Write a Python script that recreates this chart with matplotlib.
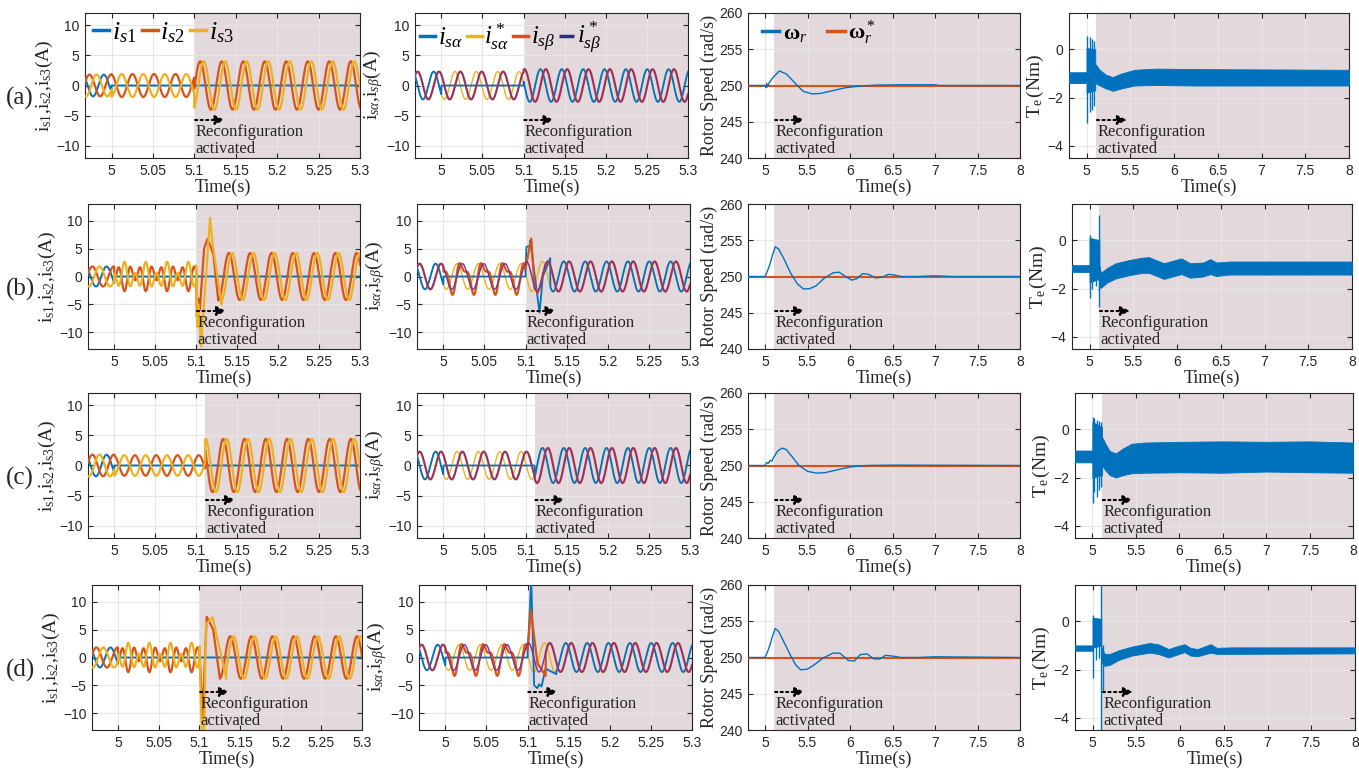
import numpy as np
import matplotlib
matplotlib.use('Agg')
import matplotlib.pyplot as plt
from matplotlib.lines import Line2D

plt.rcParams['font.family'] = ['Liberation Sans', 'DejaVu Sans']
plt.rcParams['mathtext.fontset'] = 'custom'
plt.rcParams['mathtext.rm'] = 'Liberation Serif'
plt.rcParams['mathtext.it'] = 'Liberation Serif:italic'
plt.rcParams['mathtext.bf'] = 'Liberation Serif:bold'

BLUE, ORANGE, YELLOW, PURPLE = '#0072BD', '#D95319', '#EDB120', '#7E2F8E'
SHADE = '#e3d9dc'
TXT = '#262626'
SERIF = ['Liberation Serif', 'DejaVu Serif']

# ---------------- values ----------------
row_tags = ['(a)', '(b)', '(c)', '(d)']
f_elec = 38.5              # Hz, from the period of the currents
t_peak = 4.9907            # positive peak of is1 / isa before the fault
t_fault = 5.0
t_reconf = [5.1, 5.1, 5.111, 5.1]        # start of the shaded zone, current plots
t_reconf_slow = [5.11, 5.11, 5.11, 5.11]  # start of the shaded zone, speed/torque plots
cur_ylim = [12, 13, 12, 13]

# phase currents is1, is2, is3
amp_pre = [1.8, 1.8, 1.8, 1.8]
amp_flt = [1.9, 2.2, 1.7, 2.2]
flt_h1 = [1.0, 0.45, 1.0, 0.45]     # fundamental share while faulted
flt_h2 = [0.0, 0.75, 0.0, 0.75]     # 2nd harmonic share while faulted
amp_post = [4.0, 4.2, 4.4, 3.8]
post_trough = [5.120, 5.127, 5.146, 5.125]   # first trough of is2 after reconfiguration
post_shift = [60, 55, 60, 55]                # deg lag of is3 behind is2
# transient points after reconfiguration (rows b and d)
is2_tk = {1: ([5.1, 5.1008, 5.103, 5.1045, 5.1097, 5.1137, 5.116, 5.121, 5.127],
              [1.0, -7.2, -4.0, -6.0, 5.0, 6.7, 6.0, 4.0, -4.3]),
          3: ([5.1, 5.104, 5.109, 5.112, 5.117, 5.125],
              [1.5, -10.5, 7.3, 6.5, 5.0, -3.5])}
is3_tk = {1: ([5.1, 5.1015, 5.103, 5.106, 5.117, 5.12, 5.131],
              [2.0, -9.0, -5.0, -12.5, 10.5, 6.0, -5.0]),
          3: ([5.1, 5.103, 5.106, 5.108, 5.1164, 5.133],
              [2.0, -13.0, -13.0, 6.0, 7.2, -3.8])}

# alpha-beta currents
ab_pre = [2.3, 2.3, 2.3, 2.3]
ab_post = [2.7, 2.7, 2.9, 2.6]
ab_dist = [0.0, 1.1, 0.0, 1.1]    # distortion of isb while faulted
isa_tk = {1: ([5.1, 5.101, 5.105, 5.106, 5.107, 5.117, 5.121, 5.130],
              [0.0, 5.3, 5.5, 6.5, 5.0, -6.5, 0.0, 3.3]),
          3: ([5.1, 5.1045, 5.108, 5.112, 5.114, 5.117, 5.122, 5.135],
              [0.0, 14.0, -5.0, -5.5, -4.8, -5.2, -2.0, -3.0])}
isb_tk = {1: ([5.1, 5.107, 5.111, 5.115],
              [1.5, 6.8, -2.0, -3.0]),
          3: ([5.1, 5.104, 5.112, 5.122],
              [1.5, 8.5, -1.0, -3.3])}

# rotor speed (rad/s)
spd_t = [[4.8, 5.0, 5.01, 5.02, 5.03, 5.05, 5.1, 5.17, 5.25, 5.3, 5.38, 5.45, 5.55, 5.65, 5.8, 5.95, 6.1, 6.3, 6.6, 7.0, 7.05, 8.0],
         [4.8, 5.0, 5.03, 5.06, 5.09, 5.12, 5.16, 5.22, 5.3, 5.38, 5.45, 5.52, 5.6, 5.7, 5.8, 5.87, 5.95, 6.02, 6.08, 6.15, 6.22, 6.3, 6.38, 6.45, 6.52, 6.6, 6.8, 7.0, 7.2, 8.0],
         [4.8, 5.0, 5.02, 5.04, 5.06, 5.08, 5.1, 5.15, 5.2, 5.25, 5.32, 5.4, 5.5, 5.6, 5.7, 5.85, 6.0, 6.2, 6.5, 8.0],
         [4.8, 5.0, 5.03, 5.06, 5.09, 5.12, 5.16, 5.22, 5.3, 5.36, 5.42, 5.5, 5.58, 5.68, 5.8, 5.88, 5.98, 6.05, 6.12, 6.2, 6.28, 6.35, 6.42, 6.5, 6.6, 6.8, 7.0, 8.0]]
spd_w = [[250, 250, 249.7, 250.3, 249.8, 250.4, 251.2, 252.0, 251.6, 251.0, 250.0, 249.2, 248.85, 248.9, 249.3, 249.7, 249.9, 250.05, 250.1, 250.1, 250.0, 250.0],
         [250, 250, 250.8, 251.8, 253.0, 254.1, 253.8, 252.5, 250.5, 249.0, 248.3, 248.3, 248.7, 249.8, 250.5, 250.6, 250.0, 249.5, 249.7, 250.4, 250.3, 249.8, 249.9, 250.3, 250.2, 250.0, 250.0, 250.1, 250.0, 250.0],
         [250, 250, 250.4, 250.3, 250.7, 250.6, 251.1, 252.0, 252.4, 252.2, 251.2, 250.0, 249.2, 248.95, 249.0, 249.4, 249.8, 250.0, 250.05, 250.0],
         [250, 250, 250.8, 251.8, 253.0, 254.0, 253.6, 252.2, 250.3, 249.0, 248.3, 248.4, 249.0, 249.9, 250.6, 250.6, 249.6, 249.5, 250.4, 250.5, 249.8, 249.8, 250.3, 250.2, 250.0, 250.0, 250.1, 250.0]]
spd_ref = 250.0

# electromagnetic torque band (Nm)
tq_t = [[4.8, 5.0, 5.0, 5.1, 5.1, 5.15, 5.22, 5.3, 5.4, 5.55, 5.8, 6.2, 8.0],
        [4.8, 5.0, 5.0, 5.11, 5.11, 5.13, 5.2, 5.3, 5.45, 5.6, 5.68, 5.85, 5.95, 6.05, 6.15, 6.3, 6.38, 6.45, 6.6, 8.0],
        [4.8, 5.0, 5.0, 5.11, 5.11, 5.15, 5.2, 5.27, 5.35, 5.45, 5.6, 6.0, 6.5, 7.0, 7.5, 8.0],
        [4.8, 5.0, 5.0, 5.1, 5.1, 5.14, 5.2, 5.3, 5.45, 5.65, 5.75, 5.87, 5.95, 6.05, 6.12, 6.2, 6.35, 6.42, 6.6, 8.0]]
tq_hi = [[-0.95, -0.95, 0.05, 0.0, -0.6, -0.85, -1.05, -1.15, -1.0, -0.85, -0.8, -0.82, -0.85],
         [-1.03, -1.03, 0.1, 0.0, -1.0, -1.35, -1.15, -0.95, -0.82, -0.72, -0.7, -0.95, -0.85, -0.75, -0.95, -0.92, -0.78, -0.92, -0.88, -0.88],
         [-0.88, -0.88, 0.3, 0.1, -0.3, -0.6, -0.9, -1.0, -0.8, -0.6, -0.55, -0.52, -0.5, -0.52, -0.5, -0.55],
         [-1.0, -1.0, 0.15, 0.1, -1.1, -1.35, -1.35, -1.2, -1.05, -0.9, -0.95, -1.15, -1.05, -0.95, -1.1, -1.15, -0.95, -1.1, -1.08, -1.08]]
tq_lo = [[-1.4, -1.4, -1.8, -1.7, -1.4, -1.5, -1.62, -1.72, -1.62, -1.5, -1.48, -1.5, -1.5],
         [-1.31, -1.31, -1.75, -1.6, -1.9, -1.97, -1.75, -1.58, -1.45, -1.35, -1.35, -1.6, -1.5, -1.4, -1.55, -1.5, -1.4, -1.48, -1.42, -1.42],
         [-1.37, -1.37, -2.0, -1.9, -1.5, -1.7, -1.9, -2.0, -1.9, -1.82, -1.8, -1.78, -1.8, -1.75, -1.78, -1.8],
         [-1.22, -1.22, -1.1, -1.0, -1.7, -1.85, -1.8, -1.6, -1.42, -1.3, -1.35, -1.5, -1.4, -1.28, -1.42, -1.45, -1.3, -1.35, -1.35, -1.33]]
spk_t = [[5.006, 5.035, 5.063, 5.09],
         [5.01, 5.03, 5.07, 5.105, 5.112],
         [5.005, 5.02, 5.05, 5.08, 5.1],
         [5.008, 5.04, 5.07, 5.097, 5.115]]
spk_hi = [[0.55, 0.5, 0.42, 0.36],
          [0.23, 0.1, 0.05, 0.05, 1.03],
          [0.52, 0.45, 0.4, 0.35, 0.3],
          [0.25, 0.1, 0.1, 1.6, -1.0]]
spk_lo = [[-3.05, -2.6, -2.5, -2.35],
          [-2.4, -2.0, -1.9, -2.1, -2.77],
          [-3.05, -2.6, -2.8, -2.5, -2.4],
          [-2.35, -1.6, -1.5, -4.6, -2.9]]

cur_xticks = [5, 5.05, 5.1, 5.15, 5.2, 5.25, 5.3]
cur_xlabels = ['5', '5.05', '5.1', '5.15', '5.2', '5.25', '5.3']
slow_xticks = [5, 5.5, 6, 6.5, 7, 7.5, 8]
slow_xlabels = ['5', '5.5', '6', '6.5', '7', '7.5', '8']

# ---------------- layout (pixels) ----------------
W, H = 1359, 773
lefts = [[85, 415, 748, 1069], [88, 417, 748, 1072], [88, 417, 748, 1075], [92, 419, 748, 1075]]
widths = [[275, 273, 272, 280], [272, 273, 272, 280], [272, 273, 272, 278], [270, 273, 272, 280]]
tops = [13, 204, 393, 585]
AX_H = 145

dt = 1e-4
w = 2 * np.pi * f_elec


def span(a, b):
    return np.arange(a, b, dt)


def splice(t, y, key):
    # replace the part of a trace covered by the key points
    tk, yk = key
    keep_a = t < tk[0]
    keep_b = t > tk[-1]
    return (np.concatenate([t[keep_a], tk, t[keep_b]]),
            np.concatenate([y[keep_a], yk, y[keep_b]]))


def style(ax, xlim, ylim, xt, xl, yt, shade_from):
    ax.set_xlim(*xlim)
    ax.set_ylim(*ylim)
    ax.axvspan(shade_from, xlim[1], color=SHADE, lw=0, zorder=1)
    ax.set_xticks(xt)
    ax.set_xticklabels(xl)
    ax.set_yticks(yt)
    ax.grid(True, color='#e6e6e6', lw=0.8)
    ax.tick_params(direction='in', top=True, right=True, length=3.5,
                   labelsize=10, colors=TXT, pad=4)
    for s in ax.spines.values():
        s.set_color(TXT)
        s.set_linewidth(0.8)
    ax.set_xlabel('Time(s)', family=SERIF, fontsize=13, color=TXT, labelpad=1)


def annotate(ax, x0):
    # dotted arrow and label starting at the reconfiguration instant
    fx = ax.transAxes.inverted().transform(ax.transData.transform((x0, 0)))[0]
    ax.annotate('', xy=(fx + 0.11, 0.262), xytext=(fx + 0.003, 0.262),
                xycoords='axes fraction', textcoords='axes fraction',
                arrowprops=dict(arrowstyle='-|>', ls=':', lw=1.5, color='k',
                                mutation_scale=14, shrinkA=0, shrinkB=0), zorder=5)
    ax.text(fx + 0.004, 0.235, 'Reconfiguration\nactivated', transform=ax.transAxes,
            family=SERIF, fontsize=12, color=TXT, va='top', ha='left',
            linespacing=1.08, zorder=5)


fig = plt.figure(figsize=(W / 100, H / 100), dpi=100)

for r in range(4):
    axes = []
    for c in range(4):
        l, wd = lefts[r][c], widths[r][c]
        axes.append(fig.add_axes([l / W, 1 - (tops[r] + AX_H) / H, wd / W, AX_H / H]))
    ax1, ax2, ax3, ax4 = axes
    tr = t_reconf[r]
    yl = cur_ylim[r]

    # ---- phase currents ----
    t_pre = span(4.968, t_fault)
    th = w * (t_pre - t_peak)
    A0 = amp_pre[r]
    i1p, i2p, i3p = A0 * np.cos(th), A0 * np.cos(th - 2 * np.pi / 3), A0 * np.cos(th + 2 * np.pi / 3)
    t_f = span(t_fault, tr)
    thf = w * (t_f - t_peak)
    i2f = amp_flt[r] * (flt_h1[r] * np.sin(thf - np.pi / 6) + flt_h2[r] * np.sin(2 * thf + 0.4))
    i3f = -i2f
    t_p = span(tr, 5.3005)
    thp = w * (t_p - post_trough[r]) - np.pi / 2
    i2q = amp_post[r] * np.sin(thp)
    i3q = amp_post[r] * np.sin(thp - np.radians(post_shift[r]))
    tt = np.concatenate([t_pre, t_f, t_p])
    i1 = np.concatenate([i1p, np.zeros(len(t_f) + len(t_p))])
    i2 = np.concatenate([i2p, i2f, i2q])
    i3 = np.concatenate([i3p, i3f, i3q])
    t2, i2 = (splice(tt, i2, is2_tk[r]) if r in is2_tk else (tt, i2))
    t3, i3 = (splice(tt, i3, is3_tk[r]) if r in is3_tk else (tt, i3))
    style(ax1, (4.968, 5.3), (-yl, yl), cur_xticks, cur_xlabels, [-10, -5, 0, 5, 10], tr)
    ax1.plot(tt, i1, color=BLUE, lw=1.4, zorder=3)
    ax1.plot(t2, i2, color=ORANGE, lw=1.6, zorder=3)
    ax1.plot(t3, i3, color=YELLOW, lw=1.6, zorder=3)
    ax1.set_ylabel(r'$\mathrm{i_{s1}{,}i_{s2}{,}i_{s3}(A)}$', fontsize=14, color=TXT, labelpad=1)
    annotate(ax1, tr)
    fig.text(6 / W, 1 - (tops[r] + 85) / H, row_tags[r], family=SERIF, fontsize=18,
             color=TXT, va='center', ha='left')

    # ---- alpha-beta currents ----
    ta = span(4.968, 5.3005)
    tha = w * (ta - t_peak)
    amp = np.where(ta < tr, ab_pre[r], ab_post[r])
    ia_ref = amp * np.cos(tha)
    ib_ref = amp * np.sin(tha)
    flt = (ta >= t_fault) & (ta < tr)
    ia = np.where(flt, 0.0, ia_ref)
    ib = ib_ref + np.where(flt, ab_dist[r] * np.sin(2 * tha + 0.8), 0.0)
    tia, ia = (splice(ta, ia, isa_tk[r]) if r in isa_tk else (ta, ia))
    tib, ib = (splice(ta, ib, isb_tk[r]) if r in isb_tk else (ta, ib))
    style(ax2, (4.968, 5.3), (-yl, yl), cur_xticks, cur_xlabels, [-10, -5, 0, 5, 10], tr)
    ax2.plot(ta, ia_ref, color=YELLOW, lw=1.0, zorder=3)
    ax2.plot(tia, ia, color=BLUE, lw=1.3, zorder=3)
    ax2.plot(tib, ib, color=ORANGE, lw=1.6, zorder=3)
    ax2.plot(ta, ib_ref, color=PURPLE, lw=1.0, zorder=3)
    ax2.set_ylabel(r'$\mathrm{i}_{s\alpha}\mathrm{{,}i}_{s\beta}\mathrm{(A)}$', fontsize=14,
                   color=TXT, labelpad=1)
    annotate(ax2, tr)

    # ---- rotor speed ----
    ts = t_reconf_slow[r]
    style(ax3, (4.8, 8), (240, 260), slow_xticks, slow_xlabels, [240, 245, 250, 255, 260], ts)
    ax3.plot(spd_t[r], spd_w[r], color=BLUE, lw=1.0, zorder=3)
    ax3.axhline(spd_ref, color=ORANGE, lw=1.5, zorder=2.9)
    ax3.set_ylabel('Rotor Speed (rad/s)', family=SERIF, fontsize=13, color=TXT, labelpad=1)
    annotate(ax3, ts)

    # ---- torque ----
    style(ax4, (4.8, 8), (-4.5, 1.5), slow_xticks, slow_xlabels, [-4, -2, 0], ts)
    ax4.fill_between(tq_t[r], tq_lo[r], tq_hi[r], color=BLUE, lw=0.6, zorder=3)
    ax4.vlines(spk_t[r], spk_lo[r], spk_hi[r], color=BLUE, lw=1.0, zorder=3)
    ax4.set_ylabel(r'$\mathrm{T_e\,(Nm)}$', fontsize=14, color=TXT, labelpad=1)
    annotate(ax4, ts)

    if r == 0:
        h1 = [Line2D([], [], color=c, lw=2.5) for c in (BLUE, ORANGE, YELLOW)]
        ax1.legend(h1, [r'$i_{s1}$', r'$i_{s2}$', r'$i_{s3}$'], loc='upper left',
                   bbox_to_anchor=(0.03, 0.95), ncol=3, frameon=False, fontsize=19,
                   handlelength=0.6, handletextpad=0.1, columnspacing=0.2, borderaxespad=0,
                   borderpad=0)
        h2 = [Line2D([], [], color=BLUE, lw=2.5), Line2D([], [], color=YELLOW, lw=2.5),
              Line2D([], [], color=ORANGE, lw=2.5), Line2D([], [], color='#2b2b8c', lw=2.5, ls='-.')]
        ax2.legend(h2, [r'$i_{s\alpha}$', r'$i^*_{s\alpha}$', r'$i_{s\beta}$', r'$i^*_{s\beta}$'],
                   loc='upper left', bbox_to_anchor=(0.02, 0.95), ncol=4, frameon=False,
                   fontsize=18, handlelength=0.6, handletextpad=0.1, columnspacing=0.15,
                   borderaxespad=0, borderpad=0)
        h3 = [Line2D([], [], color=BLUE, lw=2.5), Line2D([], [], color=ORANGE, lw=2.5)]
        ax3.legend(h3, [r'$\mathbf{\omega}_r$', r'$\mathbf{\omega}^*_r$'], loc='upper left',
                   bbox_to_anchor=(0.05, 0.96), ncol=2, frameon=False, fontsize=16,
                   handlelength=0.8, handletextpad=0.15, columnspacing=0.9, borderaxespad=0,
                   borderpad=0)

fig.savefig('out.png', dpi=100)
